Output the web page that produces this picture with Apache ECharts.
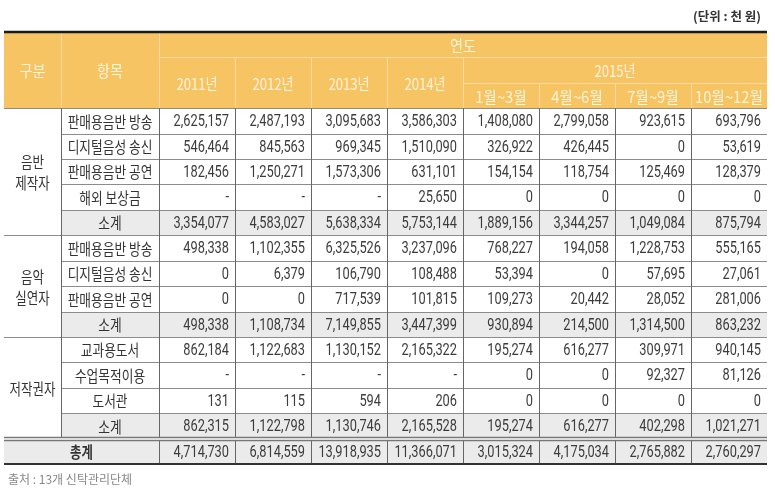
<!DOCTYPE html>
<html>
<head>
<meta charset="utf-8">
<script src="https://cdn.jsdelivr.net/npm/echarts@6/dist/echarts.min.js"></script>
<style>
html,body{margin:0;padding:0;background:#fff}
#main{width:775px;height:490px}
</style>
</head>
<body>
<div id="main"></div>
<script>
// 열 머리
var years = ['2011년', '2012년', '2013년', '2014년'];
var quarters = ['1월~3월', '4월~6월', '7월~9월', '10월~12월'];
var groups = ['음반\n제작자', '음악\n실연자', '저작권자'];

// 음반제작자
var producerItems = ['판매용음반 방송', '디지털음성 송신', '판매용음반 공연', '해외 보상금', '소계'];
var producerValues = [
    [2625157, 2487193, 3095683, 3586303, 1408080, 2799058, 923615, 693796],
    [546464, 845563, 969345, 1510090, 326922, 426445, 0, 53619],
    [182456, 1250271, 1573306, 631101, 154154, 118754, 125469, 128379],
    [null, null, null, 25650, 0, 0, 0, 0],
    [3354077, 4583027, 5638334, 5753144, 1889156, 3344257, 1049084, 875794]
];

// 음악실연자
var performerItems = ['판매용음반 방송', '디지털음성 송신', '판매용음반 공연', '소계'];
var performerValues = [
    [498338, 1102355, 6325526, 3237096, 768227, 194058, 1228753, 555165],
    [0, 6379, 106790, 108488, 53394, 0, 57695, 27061],
    [0, 0, 717539, 101815, 109273, 20442, 28052, 281006],
    [498338, 1108734, 7149855, 3447399, 930894, 214500, 1314500, 863232]
];

// 저작권자
var authorItems = ['교과용도서', '수업목적이용', '도서관', '소계'];
var authorValues = [
    [862184, 1122683, 1130152, 2165322, 195274, 616277, 309971, 940145],
    [null, null, null, null, 0, 0, 92327, 81126],
    [131, 115, 594, 206, 0, 0, 0, 0],
    [862315, 1122798, 1130746, 2165528, 195274, 616277, 402298, 1021271]
];

var totalLabel = '총계';
var totalValues = [4714730, 6814559, 13918935, 11366071, 3015324, 4175034, 2765882, 2760297];

// 레이아웃 (열 너비 단위)
var colW = [0.75, 1.29, 1, 1, 1, 1, 1, 1, 1, 1];
var colX = [0];
colW.forEach(function (w, i) { colX.push(colX[i] + w); });
var NC = colW.length;
var headRows = 3;

var ORANGE = '#F7C463';
var HEAD_TXT = '#FFF4DC';
var SUB_BG = '#EBEBEB';
var KR = '"Noto Sans CJK KR", sans-serif';
var NUM = 'Roboto, "Noto Sans CJK KR", sans-serif';

var cells = [];
var lines = [];

function cell(c0, c1, r0, r1, o) {
    o.c0 = c0; o.c1 = c1; o.r0 = r0; o.r1 = r1;
    cells.push(o);
}
function line(c0, r0, c1, r1, color, width) {
    lines.push({c0: c0, r0: r0, c1: c1, r1: r1, color: color, width: width});
}
function fmt(v) {
    return v === null ? '-' : v.toLocaleString('en-US');
}

// 헤더
cell(0, NC, 0, headRows, {fill: ORANGE});
cell(0, 1, 0, 3, {text: '구분', font: '16px ' + KR, color: HEAD_TXT, sx: 0.88});
cell(1, 2, 0, 3, {text: '항목', font: '16px ' + KR, color: HEAD_TXT, sx: 0.88});
cell(2, NC, 0, 1, {text: '연도', font: '16px ' + KR, color: HEAD_TXT, sx: 0.88});
years.forEach(function (y, i) {
    cell(2 + i, 3 + i, 1, 3, {text: y, font: '16px ' + KR, color: HEAD_TXT, sx: 0.82});
});
cell(6, NC, 1, 2, {text: '2015년', font: '16px ' + KR, color: HEAD_TXT, sx: 0.82});
quarters.forEach(function (q, i) {
    cell(6 + i, 7 + i, 2, 3, {text: q, font: '16px ' + KR, color: HEAD_TXT, sx: 0.92});
});

var HL = '#FBDDA3';
line(1, 0, 1, 3, HL, 1);
line(2, 0, 2, 3, HL, 1);
line(2, 1, NC, 1, HL, 1);
line(6, 2, NC, 2, HL, 1);
for (var k = 3; k <= 6; k++) line(k, 1, k, 3, HL, 1);
for (var k = 7; k < NC; k++) line(k, 2, k, 3, HL, 1);

// 본문
var blocks = [
    {label: groups[0], items: producerItems, values: producerValues},
    {label: groups[1], items: performerItems, values: performerValues},
    {label: groups[2], items: authorItems, values: authorValues}
];
var row = headRows;
blocks.forEach(function (b) {
    var n = b.items.length;
    cell(0, 1, row, row + n, {text: b.label, font: '16px ' + KR, color: '#333', lineHeight: 21, sx: 0.78});
    b.items.forEach(function (it, j) {
        var r = row + j;
        if (it === '소계') cell(1, NC, r, r + 1, {fill: SUB_BG});
        cell(1, 2, r, r + 1, {text: it, font: '15.5px ' + KR, color: '#333', sx: 0.82});
        b.values[j].forEach(function (v, c) {
            cell(2 + c, 3 + c, r, r + 1, {text: fmt(v), font: '16px ' + NUM, color: '#3c3c3c', align: 'right', sx: 0.8});
        });
        if (j > 0) line(1, r, NC, r, '#8C8C8C', 1);
    });
    line(0, row, NC, row, '#8C8C8C', 1);
    line(1, row, 1, row + n, '#666', 1);
    row += n;
});
// 총계
cell(0, NC, row, row + 1, {fill: SUB_BG});
cell(0, 2, row, row + 1, {text: totalLabel, font: 'bold 15.5px ' + KR, color: '#333', sx: 0.8});
totalValues.forEach(function (v, c) {
    cell(2 + c, 3 + c, row, row + 1, {text: fmt(v), font: '16px ' + NUM, color: '#3c3c3c', align: 'right', sx: 0.8});
});
var lastRow = row + 1;
for (var k = 2; k < NC; k++) line(k, headRows, k, lastRow, '#666', 1);
line(0, row, NC, row, '#777', 4.5);
line(0, row, NC, row, '#fff', 1.5);
line(0, 0, NC, 0, '#1a1a1a', 2.5);
line(0, lastRow, NC, lastRow, '#333', 2);

var mychart = echarts.init(document.getElementById('main'));

function px(v, w) {
    // 1px 선은 픽셀 경계에 맞춤
    return w % 2 === 1 ? Math.round(v) + 0.5 : Math.round(v);
}

var option = {
    animation: false,
    title: [{
        text: '(단위 : 천 원)',
        right: 9,
        top: 5,
        textStyle: {fontSize: 12.5, fontWeight: 'bold', color: '#333', fontFamily: 'Noto Sans CJK KR'}
    }, {
        text: '출처 : 13개 신탁관리단체',
        left: 3,
        bottom: 0,
        textStyle: {fontSize: 12, fontWeight: 'normal', color: '#888', fontFamily: 'Noto Sans CJK KR'}
    }],
    grid: {left: 4, right: 8, top: 32, bottom: 26},
    xAxis: {type: 'value', min: 0, max: colX[NC], show: false},
    yAxis: {type: 'value', min: 0, max: lastRow, inverse: true, show: false},
    series: [{
        type: 'custom',
        silent: true,
        data: cells.map(function (c) { return [colX[c.c0], c.r0, colX[c.c1], c.r1]; }),
        encode: {x: [0, 2], y: [1, 3]},
        renderItem: function (params, api) {
            var d = cells[params.dataIndex];
            var p0 = api.coord([api.value(0), api.value(1)]);
            var p1 = api.coord([api.value(2), api.value(3)]);
            var x0 = Math.round(p0[0]), y0 = Math.round(p0[1]);
            var x1 = Math.round(p1[0]), y1 = Math.round(p1[1]);
            var ch = [];
            if (d.fill) {
                ch.push({type: 'rect', shape: {x: x0, y: y0, width: x1 - x0, height: y1 - y0}, style: {fill: d.fill}});
            }
            if (d.text !== undefined) {
                var right = d.align === 'right';
                ch.push({
                    type: 'text',
                    x: right ? x1 - 6 : (x0 + x1) / 2,
                    y: (y0 + y1) / 2 + 1,
                    scaleX: d.sx || 1,
                    style: {
                        text: d.text,
                        font: d.font,
                        fill: d.color,
                        align: right ? 'right' : 'center',
                        verticalAlign: 'middle',
                        lineHeight: d.lineHeight
                    }
                });
            }
            return {type: 'group', children: ch};
        },
        z: 1
    }, {
        type: 'custom',
        silent: true,
        data: lines.map(function (l) { return [colX[l.c0], l.r0, colX[l.c1], l.r1]; }),
        encode: {x: [0, 2], y: [1, 3]},
        renderItem: function (params, api) {
            var l = lines[params.dataIndex];
            var a = api.coord([api.value(0), api.value(1)]);
            var b = api.coord([api.value(2), api.value(3)]);
            var vert = a[0] === b[0];
            var s = vert
                ? {x1: px(a[0], l.width), y1: Math.round(a[1]), x2: px(b[0], l.width), y2: Math.round(b[1])}
                : {x1: Math.round(a[0]), y1: px(a[1], l.width), x2: Math.round(b[0]), y2: px(b[1], l.width)};
            return {type: 'line', shape: s, style: {stroke: l.color, lineWidth: l.width}};
        },
        z: 2
    }]
};

mychart.setOption(option);
</script>
</body>
</html>
